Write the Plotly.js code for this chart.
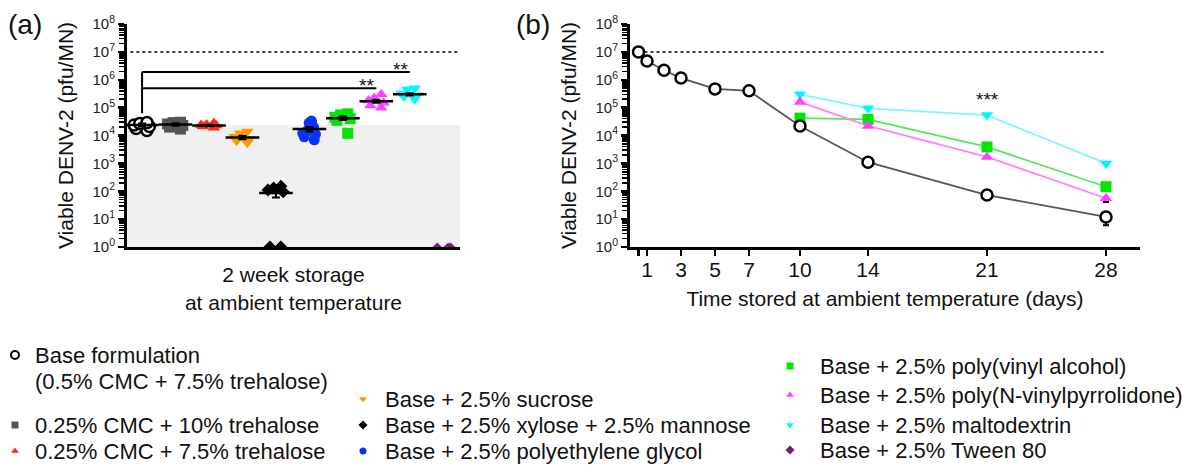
<!DOCTYPE html>
<html>
<head>
<meta charset="utf-8">
<script src="https://cdn.plot.ly/plotly-3.0.1.min.js"></script>
<style>html,body{margin:0;padding:0;background:#fff;}#chart{width:1182px;height:465px;}</style>
</head>
<body>
<div id="chart"></div>
<script>
// ---------- DATA ----------
const groupLabels = [
  'Base formulation<br>(0.5% CMC + 7.5% trehalose)',
  '0.25% CMC + 10% trehalose',
  '0.25% CMC + 7.5% trehalose',
  'Base + 2.5% sucrose',
  'Base + 2.5% xylose + 2.5% mannose',
  'Base + 2.5% polyethylene glycol',
  'Base + 2.5% poly(vinyl alcohol)',
  'Base + 2.5% poly(N-vinylpyrrolidone)',
  'Base + 2.5% maltodextrin',
  'Base + 2.5% Tween 80'
];
// panel (a): viable DENV-2 after 2 weeks (pfu/MN), individual patches
const a_base    = [2.9e4, 2.7e4, 2.4e4, 2.1e4, 1.8e4, 1.5e4];
const a_cmc10   = [3.0e4, 2.9e4, 2.6e4, 2.3e4, 2.0e4, 1.7e4];
const a_cmc75   = [2.8e4, 2.5e4, 2.3e4, 2.1e4, 1.9e4, 2.4e4];
const a_sucrose = [1.4e4, 1.2e4, 9.0e3, 7.5e3, 6.5e3, 5.5e3];
const a_xylose  = [150, 130, 110, 95, 1, 1];
const a_peg     = [3.3e4, 2.8e4, 2.0e4, 1.5e4, 1.2e4, 9.0e3, 7.0e3, 1.1e4];
const a_pva     = [6.0e4, 5.5e4, 4.5e4, 4.0e4, 3.5e4, 1.2e4];
const a_pvp     = [3.0e5, 2.2e5, 1.8e5, 1.5e5, 1.2e5, 1.0e5];
const a_malto   = [5.0e5, 4.5e5, 3.2e5, 2.8e5, 2.5e5, 2.0e5];
const a_tween   = [1, 1, 1];
const a_mean    = [2.4e4, 2.5e4, 2.3e4, 8.5e3, 87, 1.7e4, 4.2e4, 1.7e5, 3.0e5, null];
const a_sem     = [3e3, 2.5e3, 1.5e3, 1.2e3, 27, 3e3, 6e3, 2e4, 3e4, 0];
// significance brackets: from group 0 to group index, at level, label
const sigTo     = [8, 7];
const sigLevel  = [1.9e6, 5.0e5];
const sigText   = ['**', '**'];
const sigBottom = 6.3e4;
const initialDose = 1e7;
// panel (b): storage time course
const b_daysBase = [0.5, 1, 2, 3, 5, 7, 10, 14, 21, 28];
const b_base     = [1.0e7, 4.7e6, 2.2e6, 1.15e6, 4.7e5, 4.0e5, 2.2e4, 1.1e3, 73, 12];
const b_baseErr  = [0, 0, 0, 0, 0, 0, 3e3, 300, 10, 6];
const b_days     = [10, 14, 21, 28];
const b_pva      = [4.2e4, 3.8e4, 3.9e3, 145];
const b_pvp      = [1.6e5, 2.2e4, 1.7e3, 56];
const b_pvpErr   = [0, 0, 0, 15];
const b_malto    = [3.0e5, 9.4e4, 5.4e4, 1.0e3];
const b_dayTicks = [0.5, 1, 3, 5, 7, 10, 14, 21, 28];
const b_dayLabels= ['', '1', '3', '5', '7', '10', '14', '21', '28'];
const b_sigDay = 21, b_sigLevel = 2.0e5, b_sigText = '***';
const yExp = [0, 1, 2, 3, 4, 5, 6, 7, 8];

// ---------- STYLE / LAYOUT CONSTANTS ----------
const W = 1182, H = 465;
const FONT = 'Liberation Sans, Arial, sans-serif';
const styles = [
  {symbol:'circle', color:'#ffffff', line:'#000000', lw:2.5, size:11},
  {symbol:'square', color:'#555555', line:'#555555', lw:0, size:11},
  {symbol:'triangle-up', color:'#ff2a1a', line:'#ff2a1a', lw:0, size:11},
  {symbol:'triangle-down', color:'#ff9900', line:'#ff9900', lw:0, size:11},
  {symbol:'diamond', color:'#000000', line:'#000000', lw:0, size:10},
  {symbol:'circle', color:'#0a32ff', line:'#0a32ff', lw:0, size:11},
  {symbol:'square', color:'#00e600', line:'#00e600', lw:0, size:11},
  {symbol:'triangle-up', color:'#ff44ff', line:'#ff44ff', lw:0, size:11},
  {symbol:'triangle-down', color:'#00f5ff', line:'#00f5ff', lw:0, size:11},
  {symbol:'diamond', color:'#7a1a7a', line:'#7a1a7a', lw:0, size:7}
];
// legend layout (pixels): key centre x, text start x, row centre y
const legKeyX  = [15, 15, 15, 363, 363, 363, 790, 790, 790, 790];
const legTextX = [33, 33, 33, 383, 383, 383, 818, 818, 818, 818];
const legRowY  = [355, 425, 451, 399, 425, 451, 366, 395, 425, 450];
const legLineGap = 26;

const aGroups = [a_base, a_cmc10, a_cmc75, a_sucrose, a_xylose, a_peg, a_pva, a_pvp, a_malto, a_tween];

const traces = [];
aGroups.forEach((vals, i) => {
  const s = styles[i];
  traces.push({
    type:'box', y: vals, x0: i, name: groupLabels[i], xaxis:'x', yaxis:'y',
    boxpoints:'all', jitter:0.8, pointpos:0, width:0.7,
    fillcolor:'rgba(0,0,0,0)', line:{width:0, color:'rgba(0,0,0,0)'}, whiskerwidth:0,
    marker:{symbol:s.symbol, color:s.color, size:s.size, line:{color:s.line, width:s.lw}},
    showlegend:false, hoverinfo:'y'
  });
});
traces.push({
  type:'scatter', mode:'markers', x: a_mean.map((v,i)=>i), y: a_mean, xaxis:'x', yaxis:'y',
  marker:{symbol:'line-ew', size:24, line:{color:'#000', width:2.5}},
  error_y:{type:'data', array:a_sem, arrayminus:a_sem, color:'#000', thickness:2, width:4},
  showlegend:false, cliponaxis:false
});
const bLines = [
  {x:b_days, y:b_malto, st:styles[8], lc:'#80f4ff'},
  {x:b_days, y:b_pva, st:styles[6], lc:'#55e855'},
  {x:b_days, y:b_pvp, st:styles[7], lc:'#ff80ff', err:b_pvpErr},
  {x:b_daysBase, y:b_base, st:styles[0], lc:'#555555', err:b_baseErr}
];
bLines.forEach(L => {
  const t = {
    type:'scatter', mode:'lines+markers', x:L.x, y:L.y, xaxis:'x2', yaxis:'y2',
    line:{color:L.lc, width:1.8},
    marker:{symbol:L.st.symbol, color:L.st.color, size:L.st.size, line:{color:L.st.line, width:L.st.lw}},
    showlegend:false, cliponaxis:false
  };
  if (L.err) t.error_y = {type:'data', symmetric:false, array:L.err.map(()=>0), arrayminus:L.err, color:'#000', thickness:2, width:3};
  traces.push(t);
});

// legend keys on a hidden pixel-space overlay axis
const annotations = [];
groupLabels.forEach((lab, i) => {
  const s = styles[i];
  traces.push({
    type:'scatter', mode:'markers', x:[legKeyX[i]], y:[legRowY[i]], xaxis:'x3', yaxis:'y3',
    marker:{symbol:s.symbol, color:s.color, size: i===0 ? 8 : 7, line:{color:s.line, width: i===0 ? 2 : 0}},
    showlegend:false, hoverinfo:'skip', cliponaxis:false
  });
  lab.split('<br>').forEach((line, j) => {
    annotations.push({xref:'paper', yref:'paper', x:legTextX[i]/W, y:1-(legRowY[i] + j*legLineGap)/H,
      xanchor:'left', yanchor:'middle', text:line, showarrow:false,
      font:{family:FONT, size:22, color:'#111'}});
  });
});

// ---------- LAYOUT ----------
const yTickVals = yExp.map(e => Math.pow(10, e));
const yTickText = yExp.map(e => '10<sup>' + e + '</sup>');
const minorVals = [];
for (let e = 0; e < 8; e++) for (let d = 2; d <= 9; d++) minorVals.push(d * Math.pow(10, e));
const yDomain = [1 - 247/H, 1 - 24/H];
function yAxis(anchor) {
  return {
    type:'log', range:[0, 8], domain:yDomain, anchor:anchor,
    tickvals:yTickVals, ticktext:yTickText, tickfont:{family:FONT, size:15, color:'#222'},
    ticks:'outside', ticklen:6, tickwidth:2.5, tickcolor:'#000',
    minor:{tickvals:minorVals, ticks:'outside', ticklen:5, tickwidth:1.5, tickcolor:'#000', showgrid:false},
    showline:true, linewidth:3, linecolor:'#000', showgrid:false, zeroline:false,
    title:{text:'Viable DENV-2 (pfu/MN)', font:{family:FONT, size:21, color:'#111'}, standoff:14}
  };
}
// shapes on log axes take data values
const shapes = [
  {type:'rect', xref:'x domain', yref:'y', x0:0, x1:1, y0:1, y1:a_mean[0], fillcolor:'#f0f0f0', line:{width:0}, layer:'below'},
  {type:'line', xref:'x domain', yref:'y', x0:0.01, x1:1, y0:initialDose, y1:initialDose, line:{color:'#000', width:1.5, dash:'dot'}},
  {type:'line', xref:'x2', yref:'y2', x0:b_daysBase[0], x1:b_days[b_days.length-1], y0:initialDose, y1:initialDose, line:{color:'#000', width:1.5, dash:'dot'}, layer:'below'},
  {type:'line', xref:'x', yref:'y', x0:0, x1:0, y0:sigBottom, y1:Math.max(...sigLevel), line:{color:'#000', width:2}}
];
annotations.push(
  {xref:'paper', yref:'paper', x:6/W, y:1-25/H, xanchor:'left', yanchor:'middle', text:'(a)', showarrow:false, font:{family:FONT, size:28, color:'#111'}},
  {xref:'paper', yref:'paper', x:514/W, y:1-25/H, xanchor:'left', yanchor:'middle', text:'(b)', showarrow:false, font:{family:FONT, size:28, color:'#111'}},
  {xref:'x2', yref:'y2', x:b_sigDay, y:Math.log10(b_sigLevel), text:b_sigText, showarrow:false, font:{family:FONT, size:19, color:'#111'}, yanchor:'middle'}
);
sigTo.forEach((g, k) => {
  shapes.push({type:'line', xref:'x', yref:'y', x0:0, x1:g, y0:sigLevel[k], y1:sigLevel[k], line:{color:'#000', width:2}});
  annotations.push({xref:'x', yref:'y', x:g, y:Math.log10(sigLevel[k]), xanchor:'right', yanchor:'bottom', yshift:-10, text:sigText[k], showarrow:false, font:{family:FONT, size:19, color:'#111'}});
});

const layout = {
  width:W, height:H, margin:{l:0, r:0, t:0, b:0},
  paper_bgcolor:'#fff', plot_bgcolor:'rgba(0,0,0,0)',
  font:{family:FONT, color:'#111'}, boxmode:'overlay', showlegend:false,
  xaxis:{domain:[127/W, 460/W], range:[-0.45, 9.5], anchor:'y', showline:true, linewidth:3, linecolor:'#000',
    showticklabels:false, ticks:'', showgrid:false, zeroline:false,
    title:{text:'2 week storage<br>at ambient temperature', font:{family:FONT, size:21, color:'#111'}, standoff:19}},
  yaxis:yAxis('x'),
  xaxis2:{domain:[630/W, 1140/W], range:[0, 30], anchor:'y2', showline:true, linewidth:3, linecolor:'#000',
    tickvals:b_dayTicks, ticktext:b_dayLabels, ticks:'outside', ticklen:6, tickwidth:2.5, tickcolor:'#000',
    ticklabelstandoff:-4,
    tickfont:{family:FONT, size:21, color:'#111'}, showgrid:false, zeroline:false,
    title:{text:'Time stored at ambient temperature (days)', font:{family:FONT, size:21, color:'#111'}, standoff:12}},
  yaxis2:yAxis('x2'),
  xaxis3:{domain:[0,1], range:[0, W], anchor:'y3', visible:false, fixedrange:true},
  yaxis3:{domain:[0,1], range:[H, 0], anchor:'x3', visible:false, fixedrange:true},
  shapes:shapes, annotations:annotations
};

Plotly.newPlot('chart', traces, layout, {displayModeBar:false, staticPlot:true});
</script>
</body>
</html>
